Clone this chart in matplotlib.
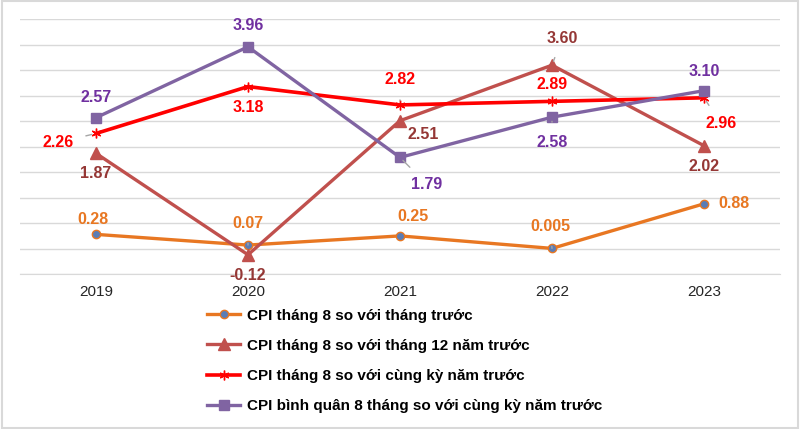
import matplotlib
matplotlib.use("Agg")
import matplotlib.pyplot as plt
from matplotlib.patches import Rectangle

plt.rcParams["font.family"] = ["Liberation Sans", "DejaVu Sans"]

# dữ liệu
years = ["2019", "2020", "2021", "2022", "2023"]
cpi_thang_truoc = [0.28, 0.07, 0.25, 0.005, 0.88]
cpi_thang12 = [1.87, -0.12, 2.51, 3.60, 2.02]
cpi_cung_ky = [2.26, 3.18, 2.82, 2.89, 2.96]
cpi_binh_quan = [2.57, 3.96, 1.79, 2.58, 3.10]

labels_thang_truoc = ["0.28", "0.07", "0.25", "0.005", "0.88"]
labels_thang12 = ["1.87", "-0.12", "2.51", "3.60", "2.02"]
labels_cung_ky = ["2.26", "3.18", "2.82", "2.89", "2.96"]
labels_binh_quan = ["2.57", "3.96", "1.79", "2.58", "3.10"]

legend_names = [
    "CPI tháng 8 so với tháng trước",
    "CPI tháng 8 so với tháng 12 năm trước",
    "CPI tháng 8 so với cùng kỳ năm trước",
    "CPI bình quân 8 tháng so với cùng kỳ năm trước",
]

fig = plt.figure(figsize=(8, 4.29), dpi=100)
ax = fig.add_axes([0.025, 0.361, 0.95, 0.594])
x = list(range(len(years)))

ax.plot(x, cpi_thang_truoc, color="#E87722", lw=2.4, marker="o", ms=6,
        mfc="#5B7DB5", mec="#E87722", mew=1.0, label=legend_names[0], zorder=3)
ax.plot(x, cpi_thang12, color="#C0504D", lw=2.4, marker="^", ms=8,
        label=legend_names[1], zorder=3)
ax.plot(x, cpi_cung_ky, color="#FF0000", lw=2.6, marker=(6, 2, 0), ms=7,
        mew=1.0, label=legend_names[2], zorder=3)
ax.plot(x, cpi_binh_quan, color="#8064A2", lw=2.4, marker="s", ms=7,
        label=legend_names[3], zorder=3)

ax.set_xlim(-0.5, 4.5)
ax.set_ylim(-0.5, 4.5)
ax.set_yticks([i * 0.5 - 0.5 for i in range(11)])
ax.set_yticklabels([])
ax.grid(axis="y", color="#D9D9D9", lw=1.0)
ax.set_axisbelow(True)
for s in ["top", "left", "right"]:
    ax.spines[s].set_visible(False)
ax.spines["bottom"].set_color("#D9D9D9")
ax.tick_params(axis="y", length=0)
ax.tick_params(axis="x", length=0, pad=8, labelsize=11, colors="#262626")
ax.set_xticks(x)
ax.set_xticklabels(years)


def nhan(values, texts, offsets, color, leaders):
    for i, (v, t) in enumerate(zip(values, texts)):
        dx, dy = offsets[i]
        props = None
        if i in leaders:
            props = dict(arrowstyle="-", color="#A6A6A6", lw=1.0,
                         shrinkA=7, shrinkB=3)
        ax.annotate(t, (i, v), xytext=(dx, dy), textcoords="offset pixels",
                    ha="center", va="center", fontsize=11.5, fontweight="bold",
                    color=color, arrowprops=props, zorder=4)


nhan(cpi_thang_truoc, labels_thang_truoc,
     [(-3, 15), (0, 22), (13, 19), (-2, 22), (30, 0)], "#E87722", [1, 3])
nhan(cpi_thang12, labels_thang12,
     [(0, -20), (0, -21), (23, -14), (10, 27), (0, -21)], "#953735", [3])
nhan(cpi_cung_ky, labels_cung_ky,
     [(-38, -9), (0, -21), (0, 25), (0, 17), (17, -26)], "#FF0000", [0, 2, 4])
nhan(cpi_binh_quan, labels_binh_quan,
     [(0, 20), (0, 21), (27, -27), (0, -25), (0, 19)], "#7030A0", [2, 3])

leg = fig.legend(loc="upper left", bbox_to_anchor=(0.249, 0.298), frameon=False,
                 prop=dict(size=11, weight="bold"), handlelength=2.2,
                 handletextpad=0.45, labelspacing=1.05, borderpad=0)
for t in leg.get_texts():
    t.set_color("#000000")

fig.patches.append(Rectangle((0.002, 0.003), 0.996, 0.994, transform=fig.transFigure,
                             fill=False, edgecolor="#D9D9D9", lw=1.5))

fig.savefig("out.png", dpi=100)
